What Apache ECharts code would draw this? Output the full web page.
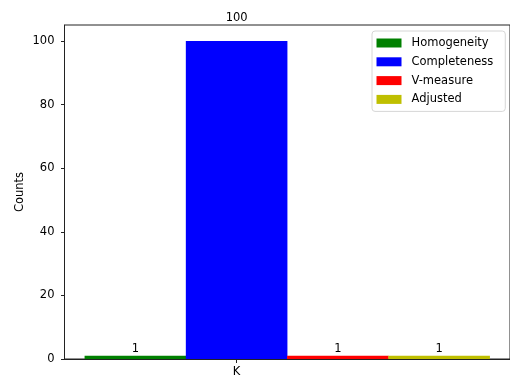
<!DOCTYPE html>
<html>
<head>
<meta charset="utf-8">
<script src="https://cdn.jsdelivr.net/npm/echarts@6/dist/echarts.min.js"></script>
<style>html,body{margin:0;padding:0;background:#fff}#c{width:510px;height:379px}</style>
</head>
<body>
<div id="c"></div>
<script>
const categories = ['K'];
const seriesNames = ['Homogeneity', 'Completeness', 'V-measure', 'Adjusted'];
const seriesValues = [1, 100, 1, 1];
const seriesOffsets = [-1, 0, 1, 2];
const seriesColors = ['#008000', '#0000ff', '#ff0000', '#bfbf00'];
const yTicks = [0, 20, 40, 60, 80, 100];
const labelDistances = [0.5, 17, 0.5, 0.5];

const FONT = 'DejaVu Sans';
const xMin = -1.7, xMax = 2.7;
const gridLeft = 64.5, gridWidth = 447, gridTop = 25, gridHeight = 334;
const barPx = gridWidth / (xMax - xMin);

const chart = echarts.init(document.getElementById('c'), null, {renderer: 'canvas'});
chart.setOption({
  animation: false,
  textStyle: {fontFamily: FONT},
  grid: {left: gridLeft, top: gridTop, width: gridWidth, height: gridHeight,
         show: true, borderColor: '#222', borderWidth: 1, backgroundColor: 'transparent'},
  legend: {
    orient: 'vertical', left: 372, top: 31,
    padding: [6, 12, 6, 4.5],
    itemWidth: 25, itemHeight: 9, itemGap: 6.8,
    icon: 'rect',
    borderColor: '#d6d6d6', borderWidth: 1, borderRadius: 3, backgroundColor: '#fff',
    textStyle: {fontFamily: FONT, fontSize: 11.5, color: '#000', lineHeight: 12, padding: [0, 0, 0, 5]},
    data: seriesNames
  },
  xAxis: {
    type: 'value', min: xMin, max: xMax,
    splitLine: {show: false},
    axisLine: {show: true, onZero: false, lineStyle: {color: '#222', width: 1}},
    axisTick: {show: true, length: 4, lineStyle: {color: '#222'}, customValues: [0]},
    axisLabel: {customValues: [0], formatter: v => (v === 0 ? categories[0] : ''),
                fontFamily: FONT, fontSize: 11.5, color: '#000', margin: 7}
  },
  yAxis: {
    type: 'value', min: 0, max: 105,
    name: 'Counts', nameLocation: 'middle', nameGap: 38, nameMoveOverlap: false,
    nameTextStyle: {fontFamily: FONT, fontSize: 11.5, color: '#000'},
    splitLine: {show: false},
    axisLine: {show: true, onZero: false, lineStyle: {color: '#222', width: 1}},
    axisTick: {show: true, length: 3.5, lineStyle: {color: '#222'}, customValues: yTicks},
    axisLabel: {customValues: yTicks, fontFamily: FONT, fontSize: 11.5, color: '#000', margin: 10}
  },
  series: seriesNames.map((name, i) => ({
    name: name,
    type: 'bar',
    barWidth: barPx,
    barGap: '-100%',
    itemStyle: {color: seriesColors[i]},
    label: {show: true, position: 'top', distance: labelDistances[i],
            fontFamily: FONT, fontSize: 11.5, color: '#000'},
    data: [[seriesOffsets[i], seriesValues[i]]]
  }))
});
</script>
</body>
</html>
